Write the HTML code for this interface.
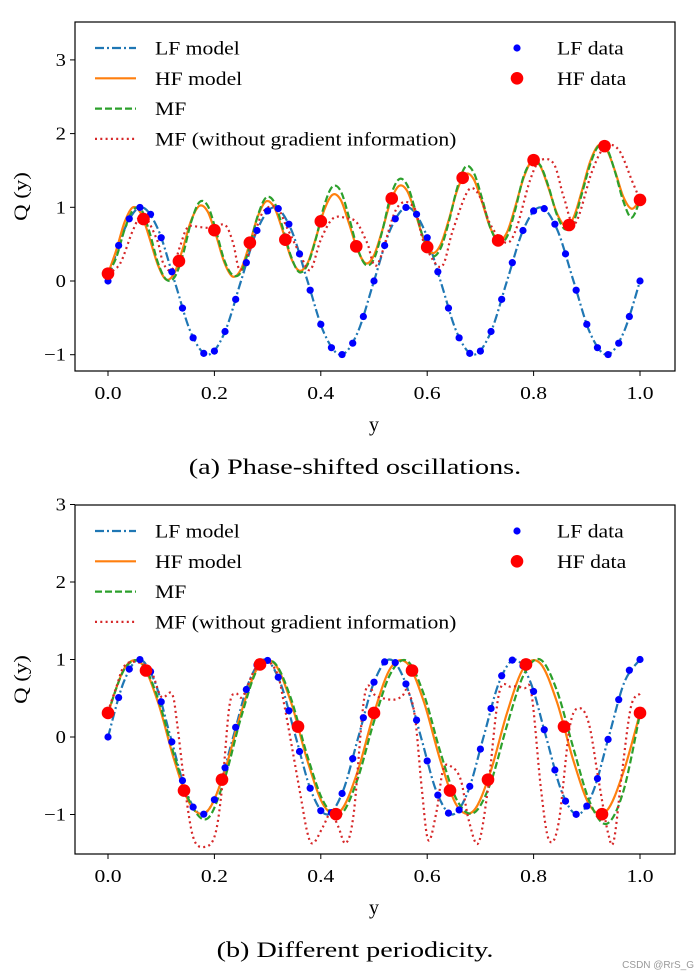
<!DOCTYPE html>
<html><head><meta charset="utf-8"><style>
html,body{margin:0;padding:0;background:#fff;}
svg{display:block;font-family:"Liberation Serif",serif;}
</style></head><body>
<svg id="fig" width="699" height="979" viewBox="0 0 699 979" xmlns="http://www.w3.org/2000/svg"></svg>
<script>
// ---------- data ----------
const xTickLabels = ["0.0","0.2","0.4","0.6","0.8","1.0"];
const xTicks = [0,0.2,0.4,0.6,0.8,1.0];
const yTicks = [3,2,1,0,-1];
const yTickLabels = ["3","2","1","0","\u22121"];

// top chart (a)
const aLFmodel = [0,0.707,1,0.707,0,-0.707,-1,-0.707,0,0.707,1,0.707,0,-0.707,-1,-0.707,0,0.707,1,0.707,0,-0.707,-1,-0.707,0,0.707,1,0.707,0,-0.707,-1,-0.707,0];
const aHFmodel = [.10,.42,.80,1.00,.91,.58,.22,.02,.11,.44,.82,1.02,.94,.62,.25,.06,.16,.49,.87,1.08,1.00,.69,.32,.14,.24,.58,.96,1.17,1.10,.78,.43,.24,.35,.69,1.08,1.29,1.22,.91,.56,.38,.49,.83,1.23,1.45,1.38,1.07,.72,.55,.66,1.01,1.40,1.63,1.56,1.26,.92,.75,.86,1.22,1.62,1.84,1.78,1.49,1.14,.98,1.10];
const aMF = [.10,.32,.70,.96,.97,.66,.25,.02,.05,.35,.80,1.07,1.02,.68,.28,.08,.12,.45,.88,1.13,1.07,.73,.34,.12,.22,.57,1.02,1.28,1.22,.86,.45,.22,.30,.68,1.15,1.38,1.30,.95,.56,.34,.44,.80,1.26,1.55,1.47,1.12,.72,.53,.60,.97,1.42,1.62,1.57,1.28,.90,.70,.80,1.18,1.58,1.83,1.80,1.48,1.08,.86,1.10];
const aMFngX = [0,.023,.047,.066,.092,.104,.12,.135,.15,.173,.197,.22,.235,.248,.267,.29,.317,.336,.36,.38,.4,.423,.45,.468,.487,.506,.543,.575,.594,.626,.647,.67,.684,.70,.72,.748,.767,.793,.812,.838,.857,.878,.91,.934,.96,.985,1.0];
const aMFngY = [.10,.24,.69,.90,.56,.24,.15,.46,.73,.73,.72,.76,.52,.15,.42,.92,1.0,.73,.38,.15,.56,.85,.85,.79,.52,.22,.99,1.0,.52,.19,.66,1.13,1.26,1.13,.75,.52,.70,1.36,1.63,1.59,1.13,.78,1.49,1.82,1.78,1.36,1.10];
const aLFdata = [0,.482,.844,.998,.905,.588,.125,-.368,-.771,-.982,-.951,-.685,-.249,.249,.685,.951,.982,.771,.368,-.125,-.588,-.905,-.998,-.844,-.482,0,.482,.844,.998,.905,.588,.125,-.368,-.771,-.982,-.951,-.685,-.249,.249,.685,.951,.982,.771,.368,-.125,-.588,-.905,-.998,-.844,-.482,0];
const aHFdata = [.10,.84,.27,.69,.52,.56,.81,.47,1.12,.46,1.40,.55,1.64,.76,1.83,1.10];

// bottom chart (b)
const bLFmodel = [0,0.707,1,0.707,0,-0.707,-1,-0.707,0,0.707,1,0.707,0,-0.707,-1,-0.707,0,0.707,1,0.707,0,-0.707,-1,-0.707,0,0.707,1,0.707,0,-0.707,-1,-0.707,0,0.707,1];
const bHFmodel = [.309,.891,.951,.454,-.309,-.891,-.951,-.454,.309,.891,.951,.454,-.309,-.891,-.951,-.454,.309,.891,.951,.454,-.309,-.891,-.951,-.454,.309,.891,.951,.454,-.309,-.891,-.951,-.454,.309];
const bMF = [.31,.88,.96,.50,-.25,-.87,-1.05,-.55,.25,.88,.96,.50,-.25,-.85,-1.0,-.55,.20,.82,.98,.55,-.20,-.82,-.98,-.60,.15,.80,1.0,.60,-.15,-.85,-1.12,-.70,.30];
const bMFngX = [0,.016,.03,.052,.08,.10,.12,.13,.145,.16,.178,.2,.214,.228,.24,.253,.275,.296,.318,.332,.36,.375,.386,.404,.419,.433,.447,.462,.483,.505,.534,.552,.563,.577,.59,.602,.617,.63,.645,.663,.678,.696,.714,.735,.757,.782,.796,.814,.829,.847,.868,.886,.904,.922,.94,.951,.966,.983,1.0];
const bMFngY = [.33,.65,.91,.97,.86,.52,.56,.17,-.68,-1.29,-1.42,-1.29,-.68,.39,.56,.52,.86,.99,.82,.39,-.68,-1.24,-1.37,-1.16,-.98,-1.16,-1.37,-.98,.56,.52,.48,.52,.60,.26,-.68,-1.33,-.98,-.42,-.38,-.55,-1.07,-1.37,-.68,.56,.65,.63,.56,-.68,-1.33,-1.11,.13,.37,.17,-.55,-1.24,-1.33,-.47,.39,.56];
const bLFdata = [0,.509,.876,.9995,.844,.454,-.063,-.562,-.905,-.996,-.809,-.397,.125,.613,.930,.988,.771,.339,-.187,-.661,-.951,-.976,-.729,-.279,.249,.707,.969,.960,.685,.218,-.309,-.750,-.982,-.941,-.637,-.156,.368,.790,.992,.918,.588,.094,-.426,-.827,-.998,-.891,-.536,-.031,.482,.861,1];
const bHFdata = [.31,.858,-.691,-.55,.936,.134,-.996,.31,.858,-.691,-.55,.936,.134,-.996,.31];

// ---------- drawing ----------
const NS="http://www.w3.org/2000/svg";
const svg=document.getElementById('fig');
function mk(tag,attrs,parent){const e=document.createElementNS(NS,tag);for(const k in attrs)e.setAttribute(k,attrs[k]);(parent||svg).appendChild(e);return e;}
function stretch(t,sx){try{const w=t.getComputedTextLength();if(w>0){t.setAttribute('textLength',(w*sx).toFixed(1));t.setAttribute('lengthAdjust','spacingAndGlyphs');}}catch(e){}}
const X0=75,X1=675;
function xs(v){return 108+532*v;}
function crPath(pts){
  let d="M"+pts[0][0].toFixed(2)+","+pts[0][1].toFixed(2);
  for(let i=0;i<pts.length-1;i++){
    const p0=pts[Math.max(0,i-1)],p1=pts[i],p2=pts[i+1],p3=pts[Math.min(pts.length-1,i+2)];
    const c1=[p1[0]+(p2[0]-p0[0])/6,p1[1]+(p2[1]-p0[1])/6];
    const c2=[p2[0]-(p3[0]-p1[0])/6,p2[1]-(p3[1]-p1[1])/6];
    d+="C"+c1[0].toFixed(2)+","+c1[1].toFixed(2)+" "+c2[0].toFixed(2)+","+c2[1].toFixed(2)+" "+p2[0].toFixed(2)+","+p2[1].toFixed(2);
  }
  return d;
}
function uniformPts(vals,ys){return vals.map((v,i)=>[xs(i/(vals.length-1)),ys(v)]);}
function xyPts(xa,ya,ys){return xa.map((x,i)=>[xs(x),ys(ya[i])]);}

function panel(cfg){
  const g=mk('g',{});
  
  
  const ys=v=>cfg.y0-cfg.k*v;
  const clipId='clip-'+cfg.name;
  const cp=mk('clipPath',{id:clipId},g);
  mk('rect',{x:X0,y:cfg.top,width:X1-X0,height:cfg.bot-cfg.top},cp);
  const plot=mk('g',{'clip-path':'url(#'+clipId+')'},g);
  
  
  const lines=[
    [crPath(uniformPts(cfg.lf,ys)),'#1f77b4','9,3,2,3','lf-model-line'],
    [crPath(uniformPts(cfg.hf,ys)),'#ff7f0e','','hf-model-line'],
    [crPath(uniformPts(cfg.mf,ys)),'#2ca02c','7,3','mf-line'],
    [crPath(xyPts(cfg.ngx,cfg.ngy,ys)),'#d62728','2,3.3','mf-no-gradient-line']
  ];
  lines.forEach(l=>{
    const p=mk('path',{d:l[0],fill:'none',stroke:l[1],'stroke-width':2.2},plot);
    if(l[2])p.setAttribute('stroke-dasharray',l[2]);
    
    
  });
  cfg.lfd.forEach((v,i)=>{
    const c=mk('circle',{cx:xs(i/(cfg.lfd.length-1)),cy:ys(v),r:3.6,fill:'#0000ff'},plot);
    
    
  });
  cfg.hfd.forEach((v,i)=>{
    const c=mk('circle',{cx:xs(i/(cfg.hfd.length-1)),cy:ys(v),r:6.3,fill:'#ff0000'},plot);
    
    
  });
  const fr=mk('rect',{x:X0,y:cfg.top,width:X1-X0,height:cfg.bot-cfg.top,fill:'none',stroke:'#000','stroke-width':1.2},g);
  
  
  xTicks.forEach((t,i)=>{
    mk('line',{x1:xs(t),x2:xs(t),y1:cfg.bot,y2:cfg.bot+5,stroke:'#000','stroke-width':1},g);
    const tx=mk('text',{x:xs(t),y:cfg.bot+28,'font-size':18,'text-anchor':'middle'},g);
    tx.textContent=xTickLabels[i];
    
    
    stretch(tx,1.2);
  });
  yTicks.forEach((t,i)=>{
    mk('line',{x1:X0-5,x2:X0,y1:ys(t),y2:ys(t),stroke:'#000','stroke-width':1},g);
    const tx=mk('text',{x:X0-9,y:ys(t)+6,'font-size':18,'text-anchor':'end'},g);
    tx.textContent=yTickLabels[i];
    
    
    stretch(tx,1.15);
  });
  const xl=mk('text',{x:374,y:cfg.bot+60,'font-size':20,'text-anchor':'middle'},g);
  xl.textContent='y';
  
  
  const cy=(cfg.top+cfg.bot)/2;
  const yl=mk('text',{x:27,y:cy,'font-size':19,'text-anchor':'middle',transform:'rotate(-90 27 '+cy+')'},g);
  yl.textContent='Q (y)';
  
  
  stretch(yl,1.2);
  const cap=mk('text',{x:355,y:cfg.bot+103,'font-size':22,'text-anchor':'middle'},g);
  cap.textContent=cfg.caption;
  
  
  stretch(cap,1.28);
  // legend
  const lg=mk('g',{},g);
  
  
  const L=cfg.top+26;
  const ents=[['LF model','#1f77b4','9,3,2,3'],['HF model','#ff7f0e',''],['MF','#2ca02c','7,3'],['MF (without gradient information)','#d62728','2,3.3']];
  ents.forEach((e,i)=>{
    const yy=L+i*30.3;
    const ln=mk('line',{x1:95,x2:136,y1:yy,y2:yy,stroke:e[1],'stroke-width':2.2},lg);
    if(e[2])ln.setAttribute('stroke-dasharray',e[2]);
    
    
    const t=mk('text',{x:155,y:yy+6.5,'font-size':19},lg);
    t.textContent=e[0];
    
    
    stretch(t,1.14);
  });
  const d1=mk('circle',{cx:517,cy:L,r:3.6,fill:'#0000ff'},lg);
  
  
  const t1=mk('text',{x:557,y:L+6.5,'font-size':19},lg);t1.textContent='LF data';
  
  
  stretch(t1,1.14);
  const d2=mk('circle',{cx:517,cy:L+30.3,r:6.3,fill:'#ff0000'},lg);
  
  
  const t2=mk('text',{x:557,y:L+36.8,'font-size':19},lg);t2.textContent='HF data';
  
  
  stretch(t2,1.14);
}
panel({name:'chart-a',top:22,bot:371,y0:281,k:73.7,lf:aLFmodel,hf:aHFmodel,mf:aMF,ngx:aMFngX,ngy:aMFngY,lfd:aLFdata,hfd:aHFdata,caption:'(a) Phase-shifted oscillations.'});
panel({name:'chart-b',top:505,bot:854,y0:737,k:77.5,lf:bLFmodel,hf:bHFmodel,mf:bMF,ngx:bMFngX,ngy:bMFngY,lfd:bLFdata,hfd:bHFdata,caption:'(b) Different periodicity.'});
const wm=mk('text',{x:694,y:968,'font-size':10,'text-anchor':'end',fill:'#999','font-family':'Liberation Sans, sans-serif'});
wm.textContent='CSDN @RrS_G';


</script>
</body></html>
